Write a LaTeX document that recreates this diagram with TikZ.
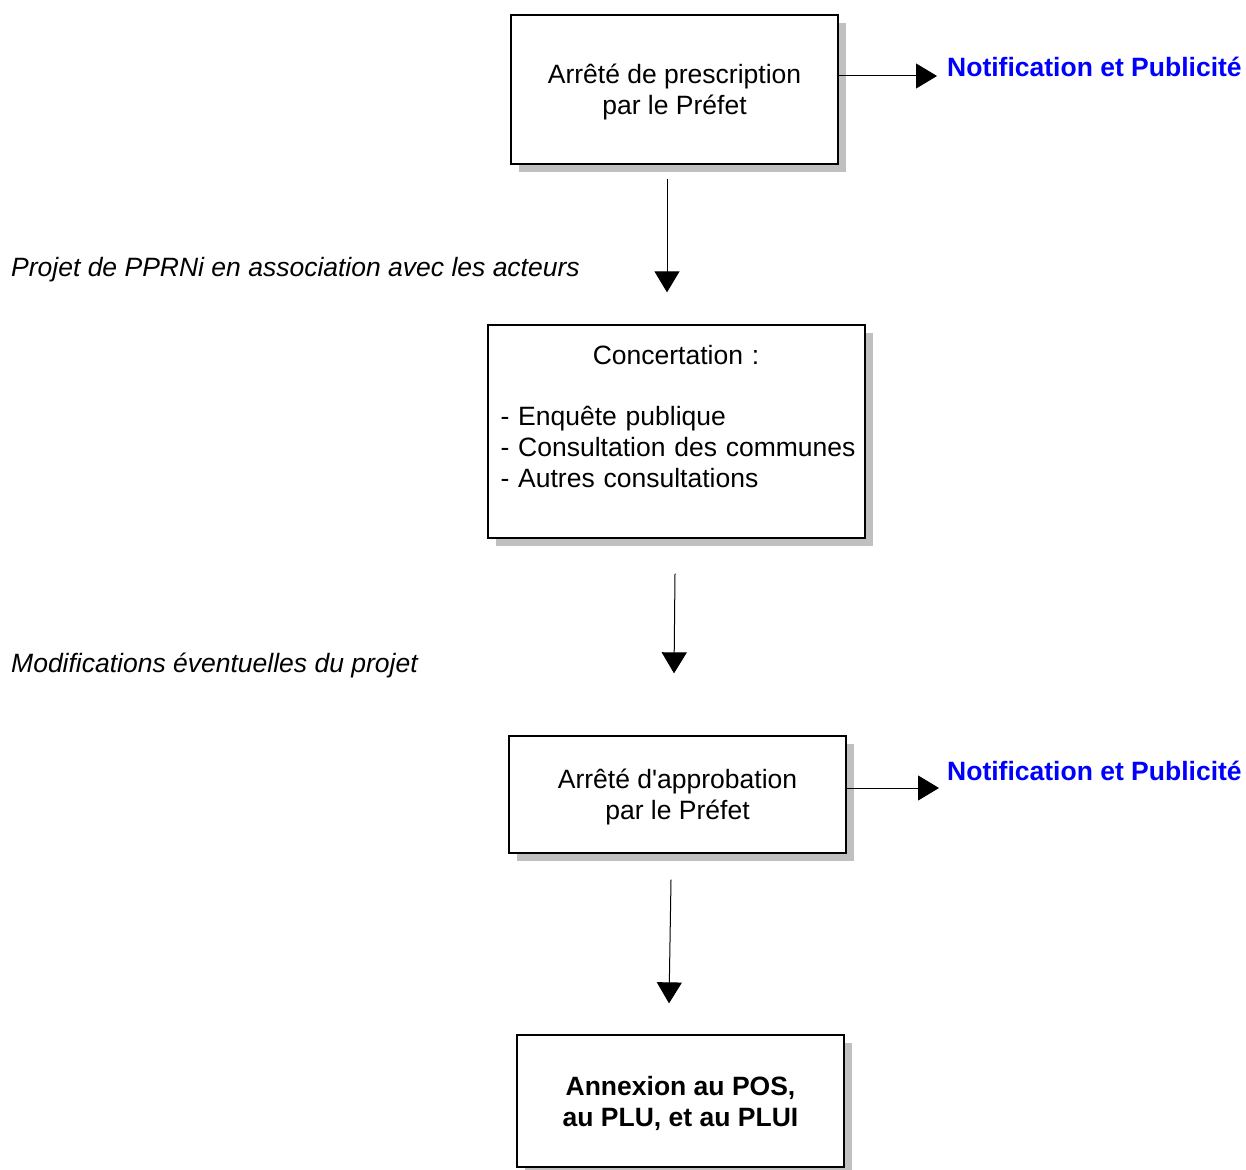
\documentclass[tikz,border=0pt]{standalone}
\usepackage{fontspec}
\setmainfont{Liberation Sans}
\usetikzlibrary{arrows.meta, shadows}

\definecolor{ombre}{HTML}{C0C0C0}

\tikzset{
    etape/.style={draw, line width=1.3pt, fill=white, inner sep=0pt, align=center, text depth=0pt,
        general shadow={fill=ombre, shadow xshift=8pt, shadow yshift=-8pt},
        font=\fontsize{26.5}{31}\selectfont},
    fleche/.style={line width=1pt, -{Triangle[width=25pt,length=21pt]}},
    avis/.style={anchor=base west, inner sep=0pt, text=blue,
        font=\fontsize{26.5}{31}\selectfont\bfseries},
    remarque/.style={anchor=base west, inner sep=0pt,
        font=\fontsize{26.5}{31}\selectfont\itshape}
}

\begin{document}
\begin{tikzpicture}[x=1pt, y=-1pt]
            \useasboundingbox (0, 0) rectangle (1246, 1169);

            % les quatre etapes
            \node[etape, minimum width=327pt, minimum height=149pt] (presc) at (674.5, 89.5)
                {Arrêté de prescription\\par le Préfet};
            \node[etape, minimum width=377pt, minimum height=213pt] (concert) at (676.5, 431.5) {};
            \node[anchor=north west, inner sep=0pt, text width=360pt, align=left,
                  font=\fontsize{26.5}{31}\selectfont] (concerttxt)
                at ([xshift=13pt, yshift=-21pt]concert.north west)
                {\makebox[351pt]{Concertation :}\\[30pt]
                 - Enquête publique\\- Consultation des communes\\- Autres consultations};
            \node[etape, minimum width=337pt, minimum height=117pt] (approb) at (677.5, 794.5)
                {Arrêté d\textquotesingle approbation\\par le Préfet};
            \node[etape, minimum width=327pt, minimum height=132pt, font=\fontsize{26.5}{31}\selectfont\bfseries]
                (annexe) at (680.5, 1101) {Annexion au POS,\\au PLU, et au PLUI};

            % publicite
            \node[avis] (pub1) at (947, 77) {Notification et Publicité};
            \node[avis] (pub2) at (947, 780) {Notification et Publicité};
            \coordinate (p1) at (937, 76);
            \coordinate (p2) at (939, 788);
            \draw[fleche] (presc.east |- p1) -- (p1);
            \draw[fleche] (approb.east |- p2) -- (p2);

            % fleches verticales
            \draw[fleche] ([xshift=-7.5pt, yshift=-14pt]presc.south) -- ([xshift=-9.5pt, yshift=32pt]concert.north);
            \draw[fleche] ([xshift=-1.5pt, yshift=-35pt]concert.south) -- ([xshift=-3.5pt, yshift=62pt]approb.north);
            \draw[fleche] ([xshift=-6.5pt, yshift=-26pt]approb.south) -- ([xshift=-11.5pt, yshift=31pt]annexe.north);

            \node[remarque] (rem1) at (11, 276) {Projet de PPRNi en association avec les acteurs};
            \node[remarque] (rem2) at (11, 672) {Modifications éventuelles du projet};
\end{tikzpicture}
\end{document}
